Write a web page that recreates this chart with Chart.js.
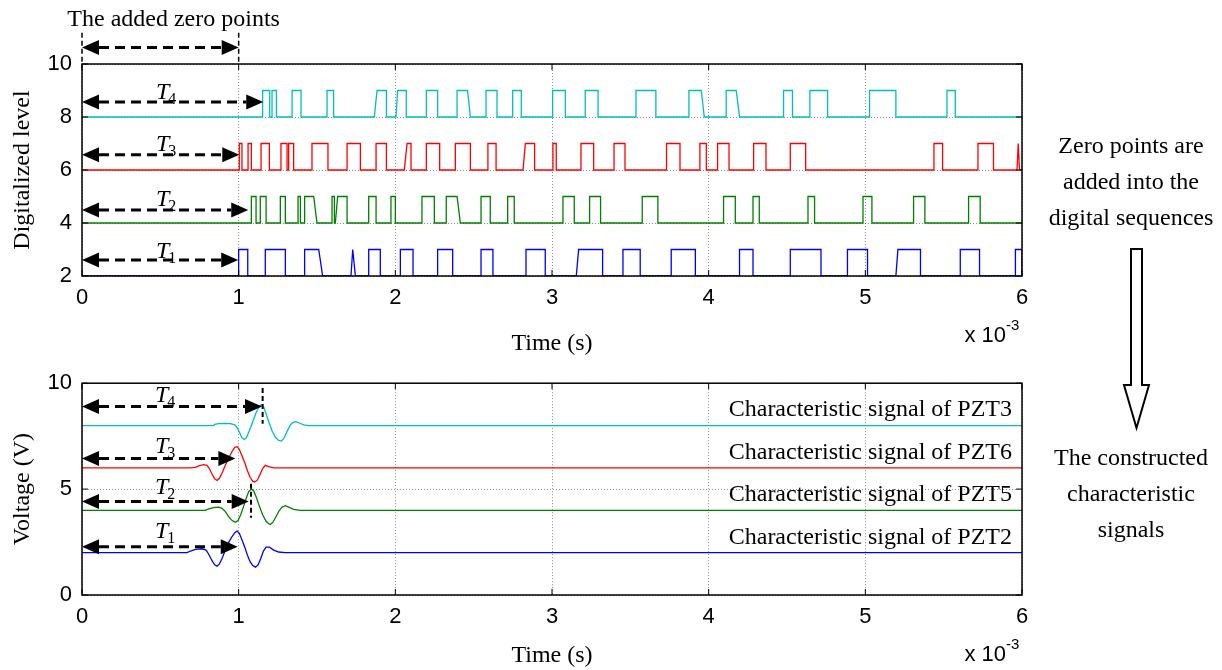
<!DOCTYPE html>
<html>
<head>
<meta charset="utf-8">
<script src="https://cdn.jsdelivr.net/npm/chart.js@4.4.0/dist/chart.umd.min.js"></script>
<style>
    html, body {margin: 0; padding: 0; background: #fff; overflow: hidden;}
    #wrap {position: relative; width: 1222px; height: 670px;}
    canvas {position: absolute; left: 0;}
    #chart_top {top: 0;}
    #chart_bottom {top: 360px;}
    .side {position: absolute; left: 1021px; width: 220px; text-align: center; color: #000;
        font: 24px "Liberation Serif", "Times New Roman", serif; line-height: 36px;}
    #flow {position: absolute; left: 0; top: 0;}
</style>
</head>
<body>
<div id="wrap">
    <canvas id="chart_top" width="1222" height="360"></canvas>
    <canvas id="chart_bottom" width="1222" height="310"></canvas>
    <div class="side" style="top:127px">Zero points are<br>added into the<br>digital sequences</div>
    <svg id="flow" width="1222" height="670">
        <polygon points="1131,249 1142,249 1142,385 1149,385 1136.5,428 1124,385 1131,385"
                 fill="#fff" stroke="#000" stroke-width="2"/>
    </svg>
    <div class="side" style="top:439px">The constructed<br>characteristic<br>signals</div>
</div>
<script>
'use strict';

// time axis in units of 1e-3 s
const xTicks = [0, 1, 2, 3, 4, 5, 6];
const topYTicks = [2, 4, 6, 8, 10];
const bottomYTicks = [0, 5, 10];

// digital sequences: pulse edges, [rise, fall] or [riseStart, riseEnd, fallStart, fallEnd] where the edge is sloped
const seqPZT2 = [[1.000, 1.058], [1.170, 1.298], [1.421, 1.421, 1.511, 1.536], [1.717, 1.728, 1.728, 1.745],
    [1.830, 1.904], [2.032, 2.113], [2.270, 2.366], [2.547, 2.623], [2.834, 2.957], [3.155, 3.170, 3.323, 3.323],
    [3.453, 3.563], [3.761, 3.915], [4.197, 4.283], [4.521, 4.717], [4.886, 5.014], [5.195, 5.208, 5.352, 5.352],
    [5.606, 5.729], [5.958, 6.0]];
const seqPZT5 = [[1.081, 1.111], [1.138, 1.175], [1.266, 1.298], [1.379, 1.394], [1.421, 1.421, 1.479, 1.500],
    [1.596, 1.611], [1.617, 1.632, 1.692, 1.692], [1.830, 1.877], [1.972, 2.000], [2.170, 2.249],
    [2.325, 2.325, 2.394, 2.415], [2.547, 2.606], [2.717, 2.759], [3.070, 3.142], [3.240, 3.310], [3.576, 3.676],
    [4.095, 4.170], [4.283, 4.323], [4.634, 4.676], [4.985, 5.042], [5.308, 5.380], [5.659, 5.733]];
const seqPZT6 = [[1.004, 1.021], [1.060, 1.081], [1.143, 1.196], [1.270, 1.309], [1.319, 1.351], [1.468, 1.570],
    [1.692, 1.777], [1.877, 1.943], [2.057, 2.075, 2.100, 2.100], [2.198, 2.283], [2.383, 2.479], [2.591, 2.643],
    [2.815, 2.830, 2.889, 2.889], [3.006, 3.027], [3.185, 3.266], [3.396, 3.466], [3.731, 3.817], [3.944, 3.985],
    [4.057, 4.130], [4.287, 4.366], [4.521, 4.619], [5.438, 5.493], [5.719, 5.818], [5.968, 5.976, 5.976, 5.984]];
const seqPZT3 = [[1.153, 1.198], [1.213, 1.241], [1.341, 1.398], [1.564, 1.606], [1.866, 1.883, 1.943, 1.943],
    [2.004, 2.015, 2.070, 2.070], [2.198, 2.270], [2.394, 2.394, 2.461, 2.479], [2.579, 2.649], [2.749, 2.804],
    [3.004, 3.085], [3.212, 3.294], [3.536, 3.663], [3.874, 3.874, 3.953, 3.972], [4.112, 4.112, 4.176, 4.197],
    [4.478, 4.535], [4.646, 4.759], [5.027, 5.195], [5.521, 5.574]];
const seqOffsets = [2, 4, 6, 8];

// characteristic signals (V)
const sigPZT2x = [0, 0.671, 0.692, 0.724, 0.766, 0.792, 0.809, 0.830, 0.847, 0.862, 0.877, 0.894, 0.915, 0.936, 0.958,
    0.975, 0.990, 1.004, 1.021, 1.039, 1.056, 1.073, 1.090, 1.107, 1.124, 1.141, 1.158, 1.175, 1.196, 1.224, 1.255, 1.298, 6];
const sigPZT2y = [2, 2, 2.076, 2.152, 2.183, 2.122, 1.924, 1.619, 1.422, 1.361, 1.467, 1.726, 2.122, 2.487, 2.761,
    2.944, 3.02, 2.913, 2.609, 2.259, 1.878, 1.574, 1.391, 1.315, 1.422, 1.726, 2.076, 2.259, 2.259, 2.122, 2.03, 2, 2];
const sigPZT5x = [0, 0.787, 0.809, 0.841, 0.873, 0.894, 0.915, 0.936, 0.958, 0.979, 0.996, 1.013, 1.032, 1.049, 1.064,
    1.081, 1.096, 1.113, 1.132, 1.153, 1.175, 1.192, 1.202, 1.219, 1.238, 1.260, 1.277, 1.298, 1.319, 1.351, 1.394, 1.426, 6];
const sigPZT5y = [4, 4, 4.061, 4.122, 4.152, 4.091, 3.939, 3.696, 3.513, 3.437, 3.513, 3.787, 4.198, 4.578, 4.883,
    5.005, 4.913, 4.609, 4.198, 3.787, 3.482, 3.361, 3.33, 3.437, 3.696, 4.0, 4.152, 4.213, 4.152, 4.046, 4, 4, 4];
const sigPZT6x = [0, 0.690, 0.724, 0.745, 0.777, 0.798, 0.813, 0.830, 0.847, 0.862, 0.877, 0.894, 0.915, 0.936, 0.958,
    0.975, 0.990, 1.004, 1.021, 1.039, 1.056, 1.073, 1.090, 1.102, 1.119, 1.138, 1.153, 1.170, 1.192, 1.224, 6];
const sigPZT6y = [6, 6, 6.03, 6.091, 6.152, 6.122, 5.97, 5.711, 5.482, 5.406, 5.513, 5.756, 6.122, 6.472, 6.776,
    6.974, 7.005, 6.883, 6.578, 6.244, 5.863, 5.559, 5.361, 5.33, 5.422, 5.711, 5.97, 6.122, 6.061, 6, 6];
const sigPZT3x = [0, 0.841, 0.847, 0.873, 0.915, 0.947, 0.975, 0.990, 1.007, 1.021, 1.036, 1.049, 1.068, 1.090, 1.111,
    1.132, 1.145, 1.160, 1.175, 1.192, 1.213, 1.234, 1.255, 1.273, 1.290, 1.309, 1.330, 1.347, 1.366, 1.387, 1.415, 1.447, 1.468, 6];
const sigPZT3y = [8, 8, 8.061, 8.091, 8.107, 8.091, 8.03, 7.909, 7.65, 7.42, 7.345, 7.42, 7.756, 8.183, 8.609,
    8.913, 8.974, 8.868, 8.563, 8.183, 7.756, 7.452, 7.3, 7.269, 7.42, 7.726, 8.03, 8.152, 8.183, 8.122, 8.03, 8, 8, 8];

const pztNames = ['PZT2', 'PZT5', 'PZT6', 'PZT3'];
const COLORS = ['#0000ff', '#008000', '#ff0000', '#00bfbf'];

const SERIF = '"Liberation Serif", "Times New Roman", serif';
const SANS = '"Liberation Sans", Arial, sans-serif';

function pulsePoints(pulses, base) {
    let pts = [{x: 0, y: base}];
    pulses.forEach(p => {
        let [a, b, c, d] = p.length === 2 ? [p[0], p[0], p[1], p[1]] : p;
        pts.push({x: a, y: base}, {x: b, y: base + 1}, {x: c, y: base + 1}, {x: d, y: base});
    });
    pts.push({x: 6, y: base});
    return pts;
}

function zipPoints(xs, ys) {
    return xs.map((x, i) => ({x: x, y: ys[i]}));
}

function lineSet(points, color) {
    return {data: points, borderColor: color, borderWidth: 1.3, pointRadius: 0, tension: 0, fill: false};
}

function dashedArrow(ctx, xa, xb, py) {
    let hl = 17, hw = 7.5;
    ctx.strokeStyle = '#000';
    ctx.fillStyle = '#000';
    ctx.lineWidth = 3;
    ctx.setLineDash([10, 6]);
    ctx.beginPath();
    ctx.moveTo(xa + hl, py);
    ctx.lineTo(xb - hl, py);
    ctx.stroke();
    ctx.setLineDash([]);
    [[xa, 1], [xb, -1]].forEach(([tip, dir]) => {
        ctx.beginPath();
        ctx.moveTo(tip, py);
        ctx.lineTo(tip + dir * hl, py - hw);
        ctx.lineTo(tip + dir * hl, py + hw);
        ctx.closePath();
        ctx.fill();
    });
}

function tLabel(ctx, px, py, n) {
    ctx.fillStyle = '#000';
    ctx.textAlign = 'left';
    ctx.textBaseline = 'alphabetic';
    ctx.font = 'italic 24px ' + SERIF;
    ctx.fillText('T', px, py);
    let w = ctx.measureText('T').width;
    ctx.font = '16px ' + SERIF;
    ctx.fillText(String(n), px + w - 1, py + 5);
}

const notesPlugin = {
    id: 'notes',
    afterDatasetsDraw(chart, args, opts) {
        let {ctx, scales: {x, y}} = chart;
        ctx.save();
        (opts.vlines || []).forEach(v => {
            ctx.strokeStyle = '#000';
            ctx.lineWidth = v.w;
            ctx.setLineDash([5, 3]);
            ctx.beginPath();
            ctx.moveTo(x.getPixelForValue(v.x), y.getPixelForValue(v.y1));
            ctx.lineTo(x.getPixelForValue(v.x), y.getPixelForValue(v.y2));
            ctx.stroke();
            ctx.setLineDash([]);
        });
        (opts.arrows || []).forEach(a => dashedArrow(ctx, x.getPixelForValue(a.x1), x.getPixelForValue(a.x2), y.getPixelForValue(a.y)));
        (opts.tLabels || []).forEach(t => tLabel(ctx, x.getPixelForValue(t.x), y.getPixelForValue(t.y), t.n));
        (opts.texts || []).forEach(t => {
            ctx.font = '24px ' + SERIF;
            ctx.fillStyle = '#000';
            ctx.textAlign = t.align;
            ctx.textBaseline = 'alphabetic';
            ctx.fillText(t.text, x.getPixelForValue(t.x), y.getPixelForValue(t.y));
        });
        ctx.restore();
    },
    afterDraw(chart) {
        let {ctx, chartArea: a, scales: {x, y}} = chart;
        ctx.save();
        ctx.strokeStyle = '#000';
        ctx.lineWidth = 1;
        ctx.beginPath();
        x.ticks.forEach(t => {
            let px = x.getPixelForValue(t.value);
            ctx.moveTo(px, a.bottom); ctx.lineTo(px, a.bottom - 6);
            ctx.moveTo(px, a.top); ctx.lineTo(px, a.top + 6);
        });
        y.ticks.forEach(t => {
            let py = y.getPixelForValue(t.value);
            ctx.moveTo(a.left, py); ctx.lineTo(a.left + 6, py);
            ctx.moveTo(a.right, py); ctx.lineTo(a.right - 6, py);
        });
        ctx.stroke();
        ctx.lineWidth = 1.5;
        ctx.strokeRect(a.left, a.top, a.right - a.left, a.bottom - a.top);
        // axis multiplier
        ctx.fillStyle = '#000';
        ctx.textBaseline = 'alphabetic';
        ctx.textAlign = 'right';
        ctx.font = '22px ' + SANS;
        ctx.fillText('x 10', a.right - 16, a.bottom + 66);
        ctx.textAlign = 'left';
        ctx.font = '15px ' + SANS;
        ctx.fillText('-3', a.right - 16, a.bottom + 54);
        ctx.restore();
    }
};

function axes(yTicks, xHeight, titleY) {
    return {
        x: {
            type: 'linear', min: 0, max: 6,
            afterBuildTicks: s => { s.ticks = xTicks.map(v => ({value: v})); },
            afterFit: s => { s.height = xHeight; },
            grid: {color: 'rgba(0,0,0,0.45)', lineWidth: 1, drawTicks: false},
            border: {display: false, dash: [1, 2]},
            ticks: {color: '#000', padding: 9, font: {family: SANS, size: 22}},
            title: {display: true, text: 'Time (s)', color: '#000', padding: {top: 0, bottom: titleY},
                font: {family: SERIF, size: 24, lineHeight: 1}}
        },
        y: {
            type: 'linear', min: yTicks[0], max: yTicks[yTicks.length - 1],
            afterBuildTicks: s => { s.ticks = yTicks.map(v => ({value: v})); },
            afterFit: s => { s.width = 82; },
            grid: {color: 'rgba(0,0,0,0.45)', lineWidth: 1, drawTicks: false},
            border: {display: false, dash: [1, 2]},
            ticks: {color: '#000', padding: 10, font: {family: SANS, size: 22}},
            title: {display: true, color: '#000', padding: {top: 11, bottom: 0},
                font: {family: SERIF, size: 24, lineHeight: 1}}
        }
    };
}

function renderTop() {
    let seqs = [seqPZT2, seqPZT5, seqPZT6, seqPZT3],
        datasets = seqs.map((s, i) => lineSet(pulsePoints(s, seqOffsets[i]), COLORS[i])).reverse(),
        scales = axes(topYTicks, 84, 4);
    scales.y.title.text = 'Digitalized level';
    return new Chart(document.getElementById('chart_top'), {
        type: 'line',
        data: {datasets: datasets},
        options: {
            responsive: false, animation: false, devicePixelRatio: 1,
            layout: {padding: {top: 64, right: 200, bottom: 0, left: 0}},
            scales: scales,
            plugins: {
                legend: {display: false}, tooltip: {enabled: false},
                notes: {
                    vlines: [{x: 0, y1: 11.18, y2: 10, w: 1.5}, {x: 1, y1: 11.18, y2: 10, w: 1.5}],
                    arrows: [{x1: 0, x2: 1, y: 10.627}, {x1: 0, x2: 1.157, y: 8.564}, {x1: 0, x2: 1.004, y: 6.572},
                        {x1: 0, x2: 1.061, y: 4.49}, {x1: 0, x2: 0.997, y: 2.60}],
                    tLabels: [{n: 4, x: 0.472, y: 8.67}, {n: 3, x: 0.472, y: 6.72}, {n: 2, x: 0.472, y: 4.64},
                        {n: 1, x: 0.472, y: 2.69}],
                    texts: [{text: 'The added zero points', x: 0.585, y: 11.42, align: 'center'}]
                }
            }
        },
        plugins: [notesPlugin]
    });
}

function renderBottom() {
    let sigs = [[sigPZT2x, sigPZT2y], [sigPZT5x, sigPZT5y], [sigPZT6x, sigPZT6y], [sigPZT3x, sigPZT3y]],
        datasets = sigs.map(([xs, ys], i) => lineSet(zipPoints(xs, ys), COLORS[i])).reverse(),
        scales = axes(bottomYTicks, 75, 2),
        labelY = [2.43, 4.44, 6.44, 8.45];
    scales.y.title.text = 'Voltage (V)';
    return new Chart(document.getElementById('chart_bottom'), {
        type: 'line',
        data: {datasets: datasets},
        options: {
            responsive: false, animation: false, devicePixelRatio: 1,
            layout: {padding: {top: 16, right: 200, bottom: 0, left: 0}},
            scales: scales,
            plugins: {
                legend: {display: false}, tooltip: {enabled: false},
                notes: {
                    vlines: [{x: 1.153, y1: 9.77, y2: 8.08, w: 2}, {x: 1.079, y1: 5.25, y2: 3.65, w: 2}],
                    arrows: [{x1: 0, x2: 1.149, y: 8.90}, {x1: 0, x2: 0.979, y: 6.45}, {x1: 0, x2: 1.064, y: 4.42},
                        {x1: 0, x2: 0.994, y: 2.28}],
                    tLabels: [{n: 4, x: 0.466, y: 9.13}, {n: 3, x: 0.466, y: 6.71}, {n: 2, x: 0.466, y: 4.75},
                        {n: 1, x: 0.466, y: 2.71}],
                    texts: pztNames.map((n, i) => ({text: 'Characteristic signal of ' + n, x: 5.936, y: labelY[i], align: 'right'}))
                }
            }
        },
        plugins: [notesPlugin]
    });
}

window.ChartTop = renderTop();
window.ChartBottom = renderBottom();
</script>
</body>
</html>
